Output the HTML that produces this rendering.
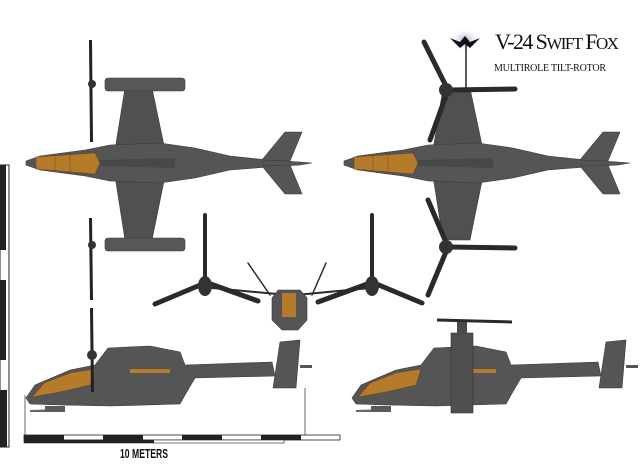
<!DOCTYPE html><html><head><style>body{margin:0;background:#fff}svg{display:block}</style></head><body>
<svg width="640" height="470" viewBox="0 0 640 470" xmlns="http://www.w3.org/2000/svg">
<defs>
<radialGradient id="glow"><stop offset="0" stop-color="#8a7fb8" stop-opacity=".7"/><stop offset="1" stop-color="#fff" stop-opacity="0"/></radialGradient>
<g id="top">
 <path d="M115,150 L125,88 L152,88 L165,150 Z" fill="#505050" stroke="#3a3a3a" stroke-width=".6"/>
 <path d="M115,176 L125,240 L152,240 L165,176 Z" fill="#505050" stroke="#3a3a3a" stroke-width=".6"/>
 <path d="M26,161 L40,156 L85,150 L110,145 L160,143 L195,148 L230,156 L268,160 L300,162 L312,163 L300,165 L268,167 L230,170 L195,178 L160,183 L110,181 L85,176 L40,170 L26,165 Z" fill="#555" stroke="#3a3a3a" stroke-width=".6"/>
 <path d="M36,157 L95,153 L100,163 L95,174 L36,169 Z" fill="#b57a2a" stroke="#6b4a1d" stroke-width=".6"/>
 <line x1="55" y1="155" x2="55" y2="171" stroke="#7a5220" stroke-width=".6"/>
 <line x1="70" y1="154" x2="70" y2="172" stroke="#7a5220" stroke-width=".6"/>
 <path d="M100,160 L175,158 L175,168 L100,166 Z" fill="#484848"/>
 <path d="M262,160 L285,132 L302,132 L290,161 Z" fill="#555" stroke="#3a3a3a" stroke-width=".6"/>
 <path d="M262,166 L285,194 L302,194 L290,165 Z" fill="#555" stroke="#3a3a3a" stroke-width=".6"/>
</g>
<g id="side">
 <path d="M26,398 L35,385 L70,370 L95,365 L108,348 L150,346 L180,352 L185,365 L272,362 L275,376 L195,378 L185,395 L180,404 L110,406 L60,405 L30,404 Z" fill="#555" stroke="#3a3a3a" stroke-width=".6"/>
 <path d="M32,397 L44,383 L70,373 L95,369 L90,385 L60,392 Z" fill="#b57a2a" stroke="#6b4a1d" stroke-width=".6"/>
 <path d="M273,388 L280,342 L300,340 L296,388 Z" fill="#555" stroke="#3a3a3a" stroke-width=".6"/>
 <path d="M300,365 L312,365 L312,368 L300,368 Z" fill="#555"/>
 <path d="M30,410 L62,409 L62,412 L30,412 Z" fill="#666"/>
 <rect x="45" y="406" width="20" height="6" fill="#5a5a5a"/>
 <rect x="130" y="369" width="40" height="4" fill="#b57a2a"/>
</g>
</defs>

<rect x="0" y="165" width="9" height="282" fill="#fff" stroke="#222" stroke-width="1"/>
<rect x="0" y="165" width="6" height="85" fill="#222"/>
<rect x="0" y="280" width="6" height="80" fill="#222"/>
<rect x="0" y="390" width="7" height="57" fill="#222"/>

<use href="#top"/>
<rect x="105" y="78" width="80" height="13" rx="3" fill="#575757" stroke="#3a3a3a" stroke-width=".6"/>
<rect x="105" y="238" width="80" height="13" rx="3" fill="#575757" stroke="#3a3a3a" stroke-width=".6"/>
<path d="M89,40 L92,40 L93,142 L90,142 Z" fill="#222"/>
<path d="M89,218 L92,218 L93,300 L90,300 Z" fill="#222"/>
<circle cx="92" cy="84" r="4" fill="#333"/><circle cx="92" cy="245" r="4" fill="#333"/>

<use href="#top" transform="translate(318,0)"/>
<g stroke="#2a2a2a" stroke-width="5" stroke-linecap="round">
 <line x1="448" y1="90" x2="424" y2="42"/><line x1="448" y1="90" x2="515" y2="89"/><line x1="448" y1="90" x2="430" y2="140"/>
 <line x1="448" y1="247" x2="428" y2="200"/><line x1="448" y1="247" x2="515" y2="248"/><line x1="448" y1="247" x2="428" y2="295"/>
</g>
<circle cx="446" cy="90" r="7" fill="#333"/><circle cx="446" cy="247" r="7" fill="#333"/>

<g stroke="#2a2a2a" stroke-linecap="round">
 <line x1="212" y1="288" x2="288" y2="295" stroke-width="2"/><line x1="370" y1="288" x2="296" y2="295" stroke-width="2"/>
 <line x1="270" y1="295" x2="248" y2="263" stroke-width="1.5"/><line x1="312" y1="295" x2="326" y2="263" stroke-width="1.5"/>
 <line x1="205" y1="280" x2="205" y2="215" stroke-width="4"/><line x1="205" y1="283" x2="155" y2="304" stroke-width="5"/><line x1="208" y1="283" x2="258" y2="301" stroke-width="5"/>
 <line x1="372" y1="280" x2="372" y2="215" stroke-width="4"/><line x1="370" y1="283" x2="318" y2="302" stroke-width="5"/><line x1="374" y1="283" x2="422" y2="303" stroke-width="5"/>
</g>
<ellipse cx="205" cy="286" rx="7" ry="10" fill="#333"/><ellipse cx="372" cy="286" rx="7" ry="10" fill="#333"/>
<path d="M272,298 L278,290 L300,290 L307,298 L307,320 L298,330 L282,330 L272,320 Z" fill="#555" stroke="#3a3a3a" stroke-width=".6"/>
<rect x="282" y="293" width="14" height="24" fill="#b57a2a"/>

<use href="#side"/>
<path d="M90,308 L93,308 L94,392 L91,392 Z" fill="#222"/>
<circle cx="92" cy="355" r="5" fill="#333"/>
<use href="#side" transform="translate(326,0)"/>
<rect x="451" y="333" width="22" height="80" fill="#4f4f4f" stroke="#333" stroke-width=".6"/>
<rect x="457" y="320" width="10" height="14" fill="#4a4a4a"/>
<path d="M437,320 L512,322" stroke="#2a2a2a" stroke-width="3"/>

<line x1="25" y1="395" x2="25" y2="436" stroke="#444" stroke-width=".8"/>
<line x1="305" y1="388" x2="305" y2="436" stroke="#444" stroke-width=".8"/>
<rect x="24" y="435" width="316" height="5" fill="#fff" stroke="#222" stroke-width=".8"/>
<rect x="24" y="435" width="40" height="5" fill="#222"/>
<rect x="103" y="435" width="40" height="5" fill="#222"/>
<rect x="182" y="435" width="40" height="5" fill="#222"/>
<rect x="261" y="435" width="40" height="5" fill="#222"/>
<rect x="24" y="440" width="260" height="3" fill="#fff" stroke="#222" stroke-width=".6"/>
<rect x="24" y="440" width="130" height="3" fill="#222"/>
<text x="120" y="458" font-family="Liberation Sans, sans-serif" font-size="13" font-weight="bold" textLength="48" lengthAdjust="spacingAndGlyphs" fill="#111">10 METERS</text>

<ellipse cx="465" cy="40" rx="16" ry="12" fill="url(#glow)"/>
<path d="M450,38 L460,42 L465,36 L470,42 L480,38 L470,48 L465,44 L460,48 Z" fill="#111"/>
<line x1="466" y1="44" x2="466" y2="88" stroke="#222" stroke-width="1.5"/>
<text x="495" y="49" font-family="Liberation Serif, serif" font-size="22" fill="#111" textLength="124">V-24 S<tspan font-size="17">WIFT</tspan> F<tspan font-size="17">OX</tspan></text>
<text x="494" y="71" font-family="Liberation Serif, serif" font-size="10" fill="#111" textLength="112">MULTIROLE TILT-ROTOR</text>
</svg>
</body></html>
